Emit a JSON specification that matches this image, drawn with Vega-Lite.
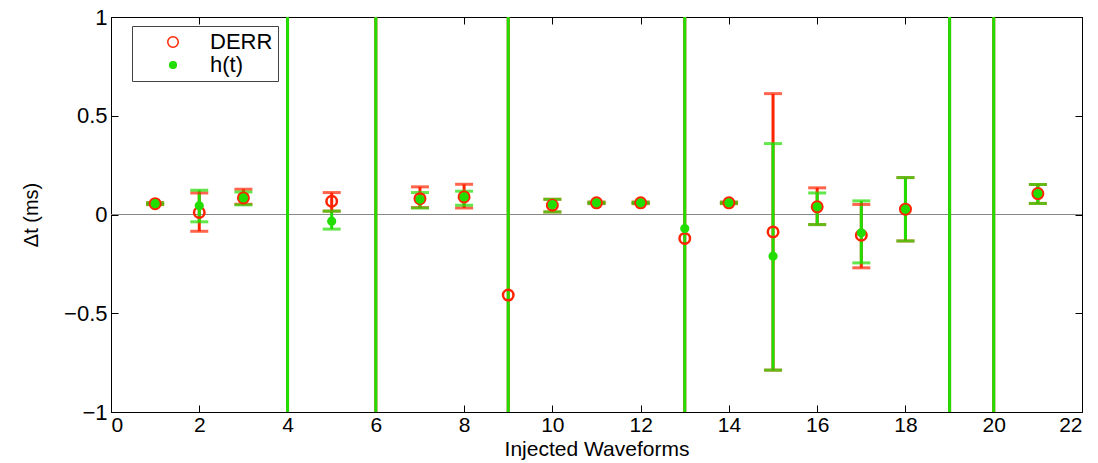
{
  "$schema": "https://vega.github.io/schema/vega-lite/v6.json",
  "autosize": "none",
  "width": 971,
  "height": 395,
  "padding": {"left": 111, "top": 17, "right": 16, "bottom": 51},
  "background": "white",
  "config": {
    "view": {"stroke": "black", "strokeWidth": 1},
    "font": "Liberation Sans",
    "axis": {"grid": false, "domain": false, "tickColor": "black", "labelColor": "black", "titleColor": "black", "labelFont": "Liberation Sans", "titleFont": "Liberation Sans", "labelFontSize": 21, "titleFontSize": 21, "titleFontWeight": "normal", "tickSize": -7}
  },
  "resolve": {"axis": {"x": "independent", "y": "independent"}, "legend": {"color": "independent", "stroke": "independent", "fill": "independent", "size": "independent"}},
  "datasets": {
    "pts": [
      {"wf": 1, "series": "DERR", "y": 0.055, "lo": 0.05, "hi": 0.06},
      {"wf": 2, "series": "DERR", "y": 0.01, "lo": -0.085, "hi": 0.109},
      {"wf": 3, "series": "DERR", "y": 0.084, "lo": 0.052, "hi": 0.128},
      {"wf": 4, "series": "DERR", "y": null, "lo": -10, "hi": 10},
      {"wf": 5, "series": "DERR", "y": 0.067, "lo": 0.017, "hi": 0.111},
      {"wf": 6, "series": "DERR", "y": null, "lo": -10, "hi": 10},
      {"wf": 7, "series": "DERR", "y": 0.08, "lo": 0.035, "hi": 0.14},
      {"wf": 8, "series": "DERR", "y": 0.089, "lo": 0.033, "hi": 0.153},
      {"wf": 9, "series": "DERR", "y": -0.408, "lo": -10, "hi": 10},
      {"wf": 10, "series": "DERR", "y": 0.047, "lo": 0.013, "hi": 0.077},
      {"wf": 11, "series": "DERR", "y": 0.059, "lo": 0.055, "hi": 0.063},
      {"wf": 12, "series": "DERR", "y": 0.059, "lo": 0.055, "hi": 0.063},
      {"wf": 13, "series": "DERR", "y": -0.121, "lo": -10, "hi": 10},
      {"wf": 14, "series": "DERR", "y": 0.059, "lo": 0.055, "hi": 0.063},
      {"wf": 15, "series": "DERR", "y": -0.088, "lo": -0.788, "hi": 0.612},
      {"wf": 16, "series": "DERR", "y": 0.039, "lo": -0.051, "hi": 0.135},
      {"wf": 17, "series": "DERR", "y": -0.105, "lo": -0.27, "hi": 0.051},
      {"wf": 18, "series": "DERR", "y": 0.027, "lo": -0.134, "hi": 0.187},
      {"wf": 19, "series": "DERR", "y": null, "lo": -10, "hi": 10},
      {"wf": 20, "series": "DERR", "y": null, "lo": -10, "hi": 10},
      {"wf": 21, "series": "DERR", "y": 0.106, "lo": 0.056, "hi": 0.152},
      {"wf": 1, "series": "h(t)", "y": 0.055, "lo": 0.051, "hi": 0.059},
      {"wf": 2, "series": "h(t)", "y": 0.044, "lo": -0.037, "hi": 0.123},
      {"wf": 3, "series": "h(t)", "y": 0.084, "lo": 0.049, "hi": 0.114},
      {"wf": 4, "series": "h(t)", "y": null, "lo": -10, "hi": 10},
      {"wf": 5, "series": "h(t)", "y": -0.034, "lo": -0.074, "hi": 0.017},
      {"wf": 6, "series": "h(t)", "y": null, "lo": -10, "hi": 10},
      {"wf": 7, "series": "h(t)", "y": 0.077, "lo": 0.033, "hi": 0.111},
      {"wf": 8, "series": "h(t)", "y": 0.089, "lo": 0.047, "hi": 0.118},
      {"wf": 9, "series": "h(t)", "y": null, "lo": -10, "hi": 10},
      {"wf": 10, "series": "h(t)", "y": 0.05, "lo": 0.013, "hi": 0.077},
      {"wf": 11, "series": "h(t)", "y": 0.059, "lo": 0.056, "hi": 0.062},
      {"wf": 12, "series": "h(t)", "y": 0.059, "lo": 0.056, "hi": 0.062},
      {"wf": 13, "series": "h(t)", "y": -0.071, "lo": -10, "hi": 10},
      {"wf": 14, "series": "h(t)", "y": 0.059, "lo": 0.056, "hi": 0.062},
      {"wf": 15, "series": "h(t)", "y": -0.211, "lo": -0.788, "hi": 0.359},
      {"wf": 16, "series": "h(t)", "y": 0.039, "lo": -0.051, "hi": 0.109},
      {"wf": 17, "series": "h(t)", "y": -0.093, "lo": -0.245, "hi": 0.069},
      {"wf": 18, "series": "h(t)", "y": 0.027, "lo": -0.134, "hi": 0.187},
      {"wf": 19, "series": "h(t)", "y": null, "lo": -10, "hi": 10},
      {"wf": 20, "series": "h(t)", "y": null, "lo": -10, "hi": 10},
      {"wf": 21, "series": "h(t)", "y": 0.106, "lo": 0.056, "hi": 0.152}
    ],
    "zero": [{"v": 0}]
  },
  "layer": [
    {
      "data": {"name": "zero"},
      "mark": {"type": "rule", "color": "#888888", "strokeWidth": 1},
      "encoding": {"y": {"field": "v", "type": "quantitative", "scale": {"domain": [-1, 1], "nice": false}, "axis": null}}
    },
    {
      "data": {"name": "pts"},
      "mark": {"type": "rule", "clip": true, "strokeWidth": 3},
      "encoding": {
        "x": {"field": "wf", "type": "quantitative", "scale": {"domain": [0, 22], "nice": false}, "axis": {"values": [0,2,4,6,8,10,12,14,16,18,20,22], "title": "Injected Waveforms", "labelPadding": 9, "titlePadding": 3, "labelFontSize": 21, "titleFontSize": 21}},
        "y": {"field": "lo", "type": "quantitative", "scale": {"domain": [-1, 1], "nice": false}, "axis": {"values": [-1,-0.5,0,0.5,1], "title": "Δt (ms)", "labelPadding": 11, "titlePadding": 22, "labelFontSize": 22, "titleFontSize": 20, "format": ".1~f"}},
        "y2": {"field": "hi"},
        "color": {"field": "series", "type": "nominal", "scale": {"domain": ["DERR", "h(t)"], "range": ["#ff2400", "#22dd00"]}, "legend": null}
      }
    },
    {
      "data": {"name": "pts"},
      "mark": {"type": "tick", "clip": true, "orient": "horizontal", "size": 18, "thickness": 3},
      "encoding": {
        "x": {"field": "wf", "type": "quantitative", "axis": null},
        "y": {"field": "lo", "type": "quantitative", "axis": null},
        "color": {"field": "series", "type": "nominal", "legend": null}
      }
    },
    {
      "data": {"name": "pts"},
      "mark": {"type": "tick", "clip": true, "orient": "horizontal", "size": 18, "thickness": 3},
      "encoding": {
        "x": {"field": "wf", "type": "quantitative", "axis": null},
        "y": {"field": "hi", "type": "quantitative", "axis": null},
        "color": {"field": "series", "type": "nominal", "legend": null}
      }
    },
    {
      "data": {"name": "pts"},
      "mark": {"type": "point", "shape": "circle", "clip": true, "opacity": 1},
      "encoding": {
        "x": {"field": "wf", "type": "quantitative", "axis": {"orient": "top", "values": [0,2,4,6,8,10,12,14,16,18,20,22], "labels": false, "title": null}},
        "y": {"field": "y", "type": "quantitative", "axis": {"orient": "right", "values": [-1,-0.5,0,0.5,1], "labels": false, "title": null}},
        "stroke": {"field": "series", "type": "nominal", "scale": {"domain": ["DERR", "h(t)"], "range": ["#ff2400", "#22dd00"]}, "legend": {"title": null, "orient": "none", "legendX": 21, "legendY": 9, "labelFontSize": 22, "labelFont": "Liberation Sans", "padding": 5, "rowPadding": 1, "strokeColor": "#444444", "fillColor": "white", "labelOffset": 26, "symbolOffset": 25, "labelLimit": 300, "labelExpr": "datum.label + '\u00a0\u00a0\u00a0\u00a0\u00a0\u00a0'"}},
        "fill": {"field": "series", "type": "nominal", "scale": {"domain": ["DERR", "h(t)"], "range": ["rgba(0,0,0,0)", "#22dd00"]}, "legend": {"title": null, "orient": "none", "legendX": 21, "legendY": 9, "labelFontSize": 22, "labelFont": "Liberation Sans", "padding": 5, "rowPadding": 1, "strokeColor": "#444444", "fillColor": "white", "labelOffset": 26, "symbolOffset": 25, "labelLimit": 300, "labelExpr": "datum.label + '\u00a0\u00a0\u00a0\u00a0\u00a0\u00a0'"}},
        "size": {"field": "series", "type": "nominal", "scale": {"domain": ["DERR", "h(t)"], "range": [110, 45]}, "legend": {"title": null, "orient": "none", "legendX": 21, "legendY": 9, "labelFontSize": 22, "labelFont": "Liberation Sans", "padding": 5, "rowPadding": 1, "strokeColor": "#444444", "fillColor": "white", "labelOffset": 26, "symbolOffset": 25, "labelLimit": 300, "labelExpr": "datum.label + '\u00a0\u00a0\u00a0\u00a0\u00a0\u00a0'"}},
        "strokeWidth": {"value": 2.5}
      }
    }
  ]
}
